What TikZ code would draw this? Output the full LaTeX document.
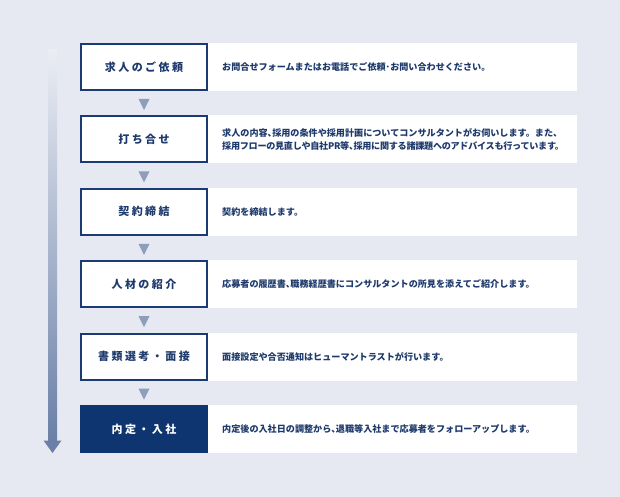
\documentclass[tikz,border=0pt]{standalone}
\usepackage{fontspec}
\usetikzlibrary{calc}
\newfontfamily\jp{Noto Sans CJK JP}
\newfontfamily\jplab[LetterSpace=22]{Noto Sans CJK JP}
\newcommand\hcomma{、\kern-0.5em\relax}
\definecolor{bg}{RGB}{230,233,241}
\definecolor{navy}{RGB}{27,60,115}
\definecolor{navyfill}{RGB}{14,53,112}
\definecolor{txt}{RGB}{30,58,108}
\definecolor{tri}{RGB}{142,157,186}
\definecolor{shaftbot}{RGB}{106,128,167}
\definecolor{shafttop}{RGB}{234,237,244}
\tikzset{
  labbox/.style={draw=navy, line width=2pt, fill=white, minimum width=126pt, minimum height=46pt, inner sep=0pt, font=\jplab\bfseries\fontsize{11}{13}\selectfont, text=txt},
  labdark/.style={labbox, fill=navyfill, draw=navyfill, text=white},
  descbox/.style={fill=white, minimum width=369pt, minimum height=48pt, text width=341pt, inner xsep=14pt, inner ysep=0pt, align=left, font=\jp\bfseries\fontsize{9.1}{13}\selectfont, text=txt, anchor=west},
  tripath/.style={fill=tri},
}
\begin{document}
\begin{tikzpicture}[x=1pt,y=-1pt]
\fill[bg] (0,0) rectangle (620,497);
\useasboundingbox (0,0) rectangle (620,497);
% gradient arrow
\coordinate (atop) at (48,50);
\coordinate (abot) at (57,441);
\shade[top color=shafttop, bottom color=shaftbot] (atop) rectangle (abot);
\fill[shaftbot] (43.5,440.5) -- (61.5,440.5) -- (52.5,453) -- cycle;
% steps
\foreach \i/\lab/\desc [count=\k] in {
  0/{求人のご依頼}/{お問合せフォームまたはお電話でご依頼･お問い合わせください。},
  1/{打ち合せ}/{求人の内容\hcomma 採用の条件や採用計画についてコンサルタントがお伺いします。また、\\{\addfontfeatures{LetterSpace=-3}採用フローの見直しや自社PR等\hcomma 採用に関する諸課題へのアドバイスも行っています。}},
  2/{契約締結}/{契約を締結します。},
  3/{人材の紹介}/{応募者の履歴書\hcomma 職務経歴書にコンサルタントの所見を添えてご紹介します。},
  4/{書類選考・面接}/{面接設定や合否通知はヒューマントラストが行います。}
}{
  \node[descbox] (d\k) at (208, 67+72.4*\i) {\desc};
  \node[labbox] (l\k) at (144, 67+72.4*\i) {\lab};
  \fill[tripath] ($(l\k.south)+(-5.5,8)$) -- ($(l\k.south)+(5.5,8)$) -- ($(l\k.south)+(0,19)$) -- cycle;
}
\node[descbox] (d6) at (208, 429) {内定後の入社日の調整から\hcomma 退職等入社まで応募者をフォローアップします。};
\node[labdark] (l6) at (144, 429) {内定・入社};
\end{tikzpicture}
\end{document}
